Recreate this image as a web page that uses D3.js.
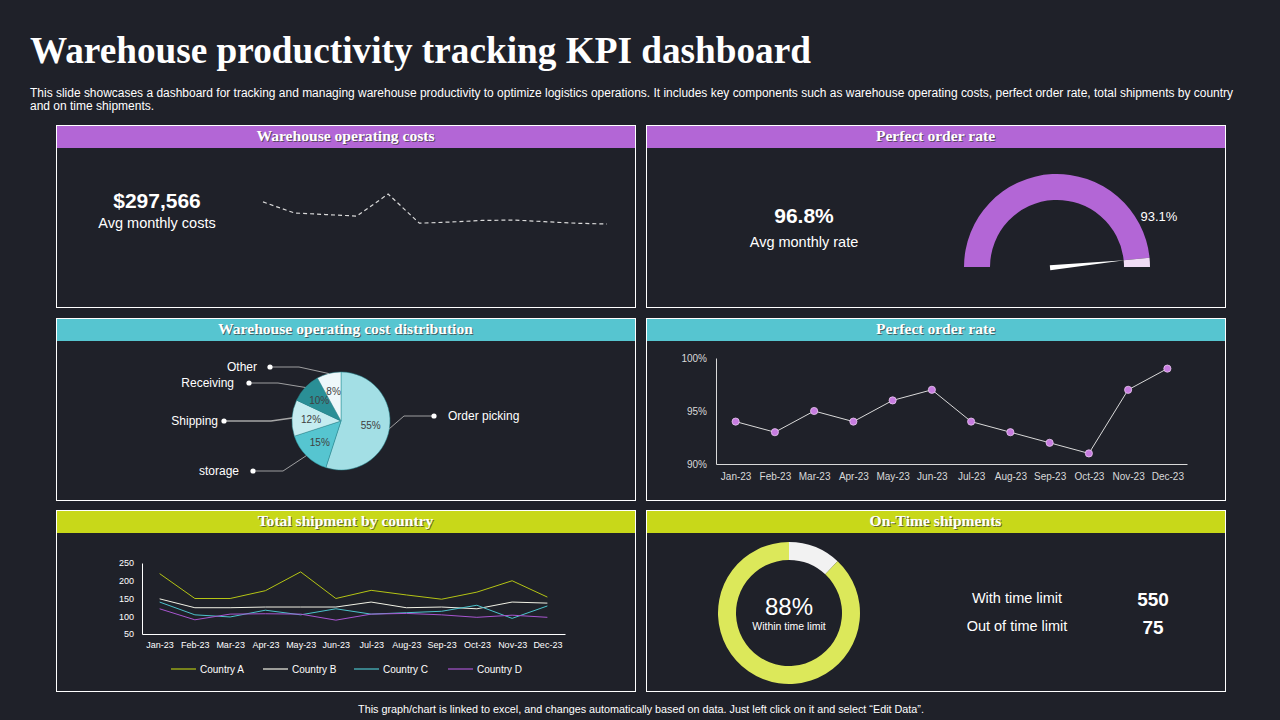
<!DOCTYPE html>
<html>
<head>
<meta charset="utf-8">
<script src="https://cdn.jsdelivr.net/npm/d3@7"></script>
<style>
  html, body { margin: 0; padding: 0; background: #1f2129; }
  svg { display: block; }
</style>
</head>
<body>
<script>
// ---- data ----
var months = ["Jan-23", "Feb-23", "Mar-23", "Apr-23", "May-23", "Jun-23", "Jul-23", "Aug-23", "Sep-23", "Oct-23", "Nov-23", "Dec-23"];

// warehouse operating costs (sparkline)
var monthlyCosts = [310000, 296000, 294000, 292000, 320000, 283000, 284500, 286500, 287000, 285000, 283000, 282000];
var avgCostText = "$297,566";

// perfect order rate
var avgRateText = "96.8%";
var gaugeValue = 96.8;
var gaugeLabel = "93.1%";
var orderRate = [94, 93, 95, 94, 96, 97, 94, 93, 92, 91, 97, 99];
var rateTicks = [90, 95, 100];

// cost distribution
var costCategories = ["Order picking", "storage", "Shipping", "Receiving", "Other"];
var costShares = [55, 15, 12, 10, 8];

// shipments by country
var countryNames = ["Country A", "Country B", "Country C", "Country D"];
var countryA = [220, 150, 150, 172, 225, 150, 173, 160, 148, 168, 200, 154];
var countryB = [149, 124, 124, 126, 126, 126, 140, 124, 126, 121, 140, 137];
var countryC = [140, 104, 98, 117, 104, 121, 106, 110, 114, 131, 94, 129];
var countryD = [121, 90, 106, 107, 106, 89, 106, 108, 104, 97, 103, 97];
var shipTicks = [50, 100, 150, 200, 250];

// on-time shipments
var shipmentLabels = ["Out of time limit", "With time limit"];
var shipmentCounts = [75, 550];
var onTimeText = "88%";

// ---- page ----
var bg = "#1f2129";
var sans = "'Liberation Sans', Arial, sans-serif";
var serif = "'Liberation Serif', 'Times New Roman', serif";

var svg = d3.select("body").append("svg")
    .attr("width", 1280)
    .attr("height", 720);

svg.append("rect").attr("width", 1280).attr("height", 720).attr("fill", bg);

svg.append("text")
    .attr("x", 30).attr("y", 63)
    .attr("font-family", serif).attr("font-weight", "bold")
    .attr("font-size", 37).attr("fill", "#ffffff")
    .attr("textLength", 781).attr("lengthAdjust", "spacingAndGlyphs")
    .text("Warehouse productivity tracking KPI dashboard");

svg.append("text")
    .attr("x", 30).attr("y", 97)
    .attr("font-family", sans).attr("font-size", 12).attr("fill", "#ffffff")
    .attr("textLength", 1203).attr("lengthAdjust", "spacingAndGlyphs")
    .text("This slide showcases a dashboard for tracking and managing warehouse productivity to optimize logistics operations. It includes key components such as warehouse operating costs, perfect order rate, total shipments by country");
svg.append("text")
    .attr("x", 30).attr("y", 110)
    .attr("font-family", sans).attr("font-size", 12).attr("fill", "#ffffff")
    .text("and on time shipments.");

svg.append("text")
    .attr("x", 641).attr("y", 713)
    .attr("text-anchor", "middle")
    .attr("font-family", sans).attr("font-size", 10.8).attr("fill", "#ffffff")
    .text("This graph/chart is linked to excel, and changes automatically based on data. Just left click on it and select \u201CEdit Data\u201D.");

// panels
var panels = [
    { x: 56, y: 125, w: 579, h: 182, title: "Warehouse operating costs", color: "#b366d6" },
    { x: 646, y: 125, w: 579, h: 182, title: "Perfect order rate", color: "#b366d6" },
    { x: 56, y: 318, w: 579, h: 182, title: "Warehouse operating cost distribution", color: "#56c5d0" },
    { x: 646, y: 318, w: 579, h: 182, title: "Perfect order rate", color: "#56c5d0" },
    { x: 56, y: 510, w: 579, h: 181, title: "Total shipment by country", color: "#c8d819" },
    { x: 646, y: 510, w: 579, h: 181, title: "On-Time shipments", color: "#c8d819" }
];

panels.forEach(function (p) {
    var g = svg.append("g");
    g.append("rect")
        .attr("x", p.x + 0.5).attr("y", p.y + 0.5)
        .attr("width", p.w).attr("height", p.h)
        .attr("fill", bg).attr("stroke", "#ffffff").attr("stroke-width", 1);
    g.append("rect")
        .attr("x", p.x + 1).attr("y", p.y + 1)
        .attr("width", p.w - 1).attr("height", 22)
        .attr("fill", p.color);
    // shadow then title
    g.append("text")
        .attr("x", p.x + p.w / 2 + 1).attr("y", p.y + 17)
        .attr("text-anchor", "middle")
        .attr("font-family", serif).attr("font-weight", "bold").attr("font-size", 15.6)
        .attr("fill", "#3a3a3a").attr("opacity", 0.7)
        .text(p.title);
    g.append("text")
        .attr("x", p.x + p.w / 2).attr("y", p.y + 16)
        .attr("text-anchor", "middle")
        .attr("font-family", serif).attr("font-weight", "bold").attr("font-size", 15.6)
        .attr("fill", "#ffffff")
        .text(p.title);
});

// ---- panel 1: operating costs sparkline ----
svg.append("text")
    .attr("x", 157).attr("y", 208).attr("text-anchor", "middle")
    .attr("font-family", sans).attr("font-weight", "bold").attr("font-size", 21)
    .attr("fill", "#ffffff").text(avgCostText);
svg.append("text")
    .attr("x", 157).attr("y", 228).attr("text-anchor", "middle")
    .attr("font-family", sans).attr("font-size", 14.5)
    .attr("fill", "#ffffff").text("Avg monthly costs");

var xSpark = d3.scalePoint().domain(months).range([263, 607]);
var ySpark = d3.scaleLinear().domain([282000, 320000]).range([224, 194]);

svg.append("path")
    .datum(monthlyCosts)
    .attr("fill", "none")
    .attr("stroke", "#d9d9d9")
    .attr("stroke-width", 1.2)
    .attr("stroke-dasharray", "4,3")
    .attr("d", d3.line()
        .x(function (d, i) { return xSpark(months[i]); })
        .y(function (d) { return ySpark(d); }));

// ---- panel 2: gauge ----
svg.append("text")
    .attr("x", 804).attr("y", 223).attr("text-anchor", "middle")
    .attr("font-family", sans).attr("font-weight", "bold").attr("font-size", 21)
    .attr("fill", "#ffffff").text(avgRateText);
svg.append("text")
    .attr("x", 804).attr("y", 247).attr("text-anchor", "middle")
    .attr("font-family", sans).attr("font-size", 14.5)
    .attr("fill", "#ffffff").text("Avg monthly rate");

var gaugeCx = 1057, gaugeCy = 267;
var gaugeAngle = d3.scaleLinear().domain([0, 100]).range([-Math.PI / 2, Math.PI / 2]);
var gaugeArc = d3.arc().innerRadius(67).outerRadius(93);
var gauge = svg.append("g").attr("transform", "translate(" + gaugeCx + "," + gaugeCy + ")");

gauge.append("path")
    .attr("d", gaugeArc({ startAngle: gaugeAngle(0), endAngle: gaugeAngle(gaugeValue) }))
    .attr("fill", "#b366d6");
gauge.append("path")
    .attr("d", gaugeArc({ startAngle: gaugeAngle(gaugeValue), endAngle: gaugeAngle(100) }))
    .attr("fill", "#f0dcf5");

// needle
var na = gaugeAngle(gaugeValue);
var dir = [Math.sin(na), -Math.cos(na)];
var perp = [-dir[1], dir[0]];
var tip = [dir[0] * 68, dir[1] * 68];
var base = [-dir[0] * 7, -dir[1] * 7];
gauge.append("path")
    .attr("d", "M" + (base[0] + perp[0] * 2.5) + "," + (base[1] + perp[1] * 2.5) +
        "L" + tip[0] + "," + tip[1] +
        "L" + (base[0] - perp[0] * 2.5) + "," + (base[1] - perp[1] * 2.5) + "Z")
    .attr("fill", "#ffffff");

var la = gaugeAngle(83);
gauge.append("text")
    .attr("x", Math.sin(la) * 97).attr("y", -Math.cos(la) * 97 + 3)
    .attr("font-family", sans).attr("font-size", 13)
    .attr("fill", "#ffffff").text(gaugeLabel);

// ---- panel 3: pie ----
var pieCx = 341, pieCy = 421, pieR = 49;
var pieColors = ["#a3dfe5", "#56c5d0", "#c5ecf0", "#2a8f96", "#eef8fa"];
var pieData = d3.pie().sort(null)(costShares);
var pieArc = d3.arc().innerRadius(0).outerRadius(pieR);
var pieG = svg.append("g").attr("transform", "translate(" + pieCx + "," + pieCy + ")");

pieG.selectAll("path.slice")
    .data(pieData)
    .join("path")
    .attr("class", "slice")
    .attr("d", pieArc)
    .attr("fill", function (d, i) { return pieColors[i]; })
    .attr("stroke", "#2a8f96")
    .attr("stroke-width", 0.5);

var labelArc = d3.arc().innerRadius(30).outerRadius(30);
pieG.selectAll("text.pct")
    .data(pieData)
    .join("text")
    .attr("class", "pct")
    .attr("transform", function (d) { return "translate(" + labelArc.centroid(d) + ")"; })
    .attr("dy", "0.35em")
    .attr("text-anchor", "middle")
    .attr("font-family", sans).attr("font-size", 10)
    .attr("fill", "#404040")
    .text(function (d) { return d.data + "%"; });

// leader lines: elbow point, dot x, label gap (relative to pie centre)
var leaders = [
    { ex: 63, ey: -5, dx: 93, gap: 14 },
    { ex: -58, ey: 50, dx: -88, gap: -14 },
    { ex: -70, ey: 0, dx: -117, gap: -6 },
    { ex: -63, ey: -38, dx: -92, gap: -15 },
    { ex: -42, ey: -54, dx: -71, gap: -13 }
];
pieData.forEach(function (d, i) {
    var m = (d.startAngle + d.endAngle) / 2;
    var sx = Math.sin(m) * pieR, sy = -Math.cos(m) * pieR;
    var L = leaders[i];
    pieG.append("polyline")
        .attr("points", [[sx, sy], [L.ex, L.ey], [L.dx, L.ey]].join(" "))
        .attr("fill", "none")
        .attr("stroke", i === 2 ? "#a6a6a6" : "#bfbfbf")
        .attr("stroke-width", i === 2 ? 1.5 : 0.8);
    pieG.append("circle")
        .attr("cx", L.dx).attr("cy", L.ey).attr("r", 2.6)
        .attr("fill", "#ffffff");
    pieG.append("text")
        .attr("x", L.dx + L.gap).attr("y", L.ey)
        .attr("dy", "0.35em")
        .attr("text-anchor", L.gap > 0 ? "start" : "end")
        .attr("font-family", sans).attr("font-size", 12)
        .attr("fill", "#ffffff")
        .text(costCategories[i]);
});

// ---- panel 4: order rate line ----
var xRate = d3.scalePoint().domain(months).range([716, 1187]).padding(0.5);
var yRate = d3.scaleLinear().domain([90, 100]).range([464, 358]);

var rateY = svg.append("g")
    .attr("transform", "translate(716,0)")
    .call(d3.axisLeft(yRate).tickValues(rateTicks).tickSize(0).tickPadding(9)
        .tickFormat(function (d) { return d + "%"; }));
var rateX = svg.append("g")
    .attr("transform", "translate(0,464)")
    .call(d3.axisBottom(xRate).tickSize(0).tickPadding(9));

[rateY, rateX].forEach(function (a) {
    a.select(".domain").attr("stroke", "#d9d9d9");
    a.selectAll("text").attr("fill", "#d9d9d9").attr("font-family", sans).attr("font-size", 10);
});

svg.append("path")
    .datum(orderRate)
    .attr("fill", "none")
    .attr("stroke", "#d9d9d9")
    .attr("stroke-width", 1)
    .attr("d", d3.line()
        .x(function (d, i) { return xRate(months[i]); })
        .y(function (d) { return yRate(d); }));

svg.selectAll("circle.rate")
    .data(orderRate)
    .join("circle")
    .attr("class", "rate")
    .attr("cx", function (d, i) { return xRate(months[i]); })
    .attr("cy", function (d) { return yRate(d); })
    .attr("r", 3.6)
    .attr("fill", "#c77ce0")
    .attr("stroke", "#e8c8f0")
    .attr("stroke-width", 0.8);

// ---- panel 5: shipments by country ----
var xShip = d3.scalePoint().domain(months).range([142, 565]).padding(0.5);
var yShip = d3.scaleLinear().domain([50, 250]).range([634, 563]);

var shipY = svg.append("g")
    .attr("transform", "translate(142,0)")
    .call(d3.axisLeft(yShip).tickValues(shipTicks).tickSize(0).tickPadding(8));
var shipX = svg.append("g")
    .attr("transform", "translate(0,634)")
    .call(d3.axisBottom(xShip).tickSize(0).tickPadding(8));
[shipY, shipX].forEach(function (a) {
    a.select(".domain").attr("stroke", "#ffffff");
    a.selectAll("text").attr("fill", "#ffffff").attr("font-family", sans).attr("font-size", 9);
});

var countrySeries = [countryA, countryB, countryC, countryD];
var countryColors = ["#b4c414", "#f2f2e6", "#4cc3cc", "#a855d0"];
var shipLine = d3.line()
    .x(function (d, i) { return xShip(months[i]); })
    .y(function (d) { return yShip(d); });

svg.selectAll("path.country")
    .data(countrySeries)
    .join("path")
    .attr("class", "country")
    .attr("fill", "none")
    .attr("stroke", function (d, i) { return countryColors[i]; })
    .attr("stroke-width", 1)
    .attr("d", shipLine);

var legendX = [171, 263, 354, 448];
countryNames.forEach(function (name, i) {
    svg.append("line")
        .attr("x1", legendX[i]).attr("x2", legendX[i] + 25)
        .attr("y1", 669).attr("y2", 669)
        .attr("stroke", countryColors[i]).attr("stroke-width", 1.2);
    svg.append("text")
        .attr("x", legendX[i] + 29).attr("y", 669).attr("dy", "0.35em")
        .attr("font-family", sans).attr("font-size", 10)
        .attr("fill", "#ffffff").text(name);
});

// ---- panel 6: on-time donut ----
var donutArc = d3.arc().innerRadius(53).outerRadius(71);
var donutData = d3.pie().sort(null)(shipmentCounts);
var donutColors = ["#f2f2f2", "#dce85a"];
var donut = svg.append("g").attr("transform", "translate(789,613)");
donut.selectAll("path")
    .data(donutData)
    .join("path")
    .attr("d", donutArc)
    .attr("fill", function (d, i) { return donutColors[i]; });

donut.append("text")
    .attr("y", 2).attr("text-anchor", "middle")
    .attr("font-family", sans).attr("font-size", 24)
    .attr("fill", "#ffffff").text(onTimeText);
donut.append("text")
    .attr("y", 17).attr("text-anchor", "middle")
    .attr("font-family", sans).attr("font-size", 10.5)
    .attr("fill", "#ffffff").text("Within time limit");

[1, 0].forEach(function (idx, row) {
    var y = 603 + row * 28;
    svg.append("text")
        .attr("x", 1017).attr("y", y).attr("text-anchor", "middle")
        .attr("font-family", sans).attr("font-size", 14.5)
        .attr("fill", "#ffffff").text(shipmentLabels[idx]);
    svg.append("text")
        .attr("x", 1153).attr("y", y + 3).attr("text-anchor", "middle")
        .attr("font-family", sans).attr("font-weight", "bold").attr("font-size", 19)
        .attr("fill", "#ffffff").text(shipmentCounts[idx]);
});
</script>
</body>
</html>
